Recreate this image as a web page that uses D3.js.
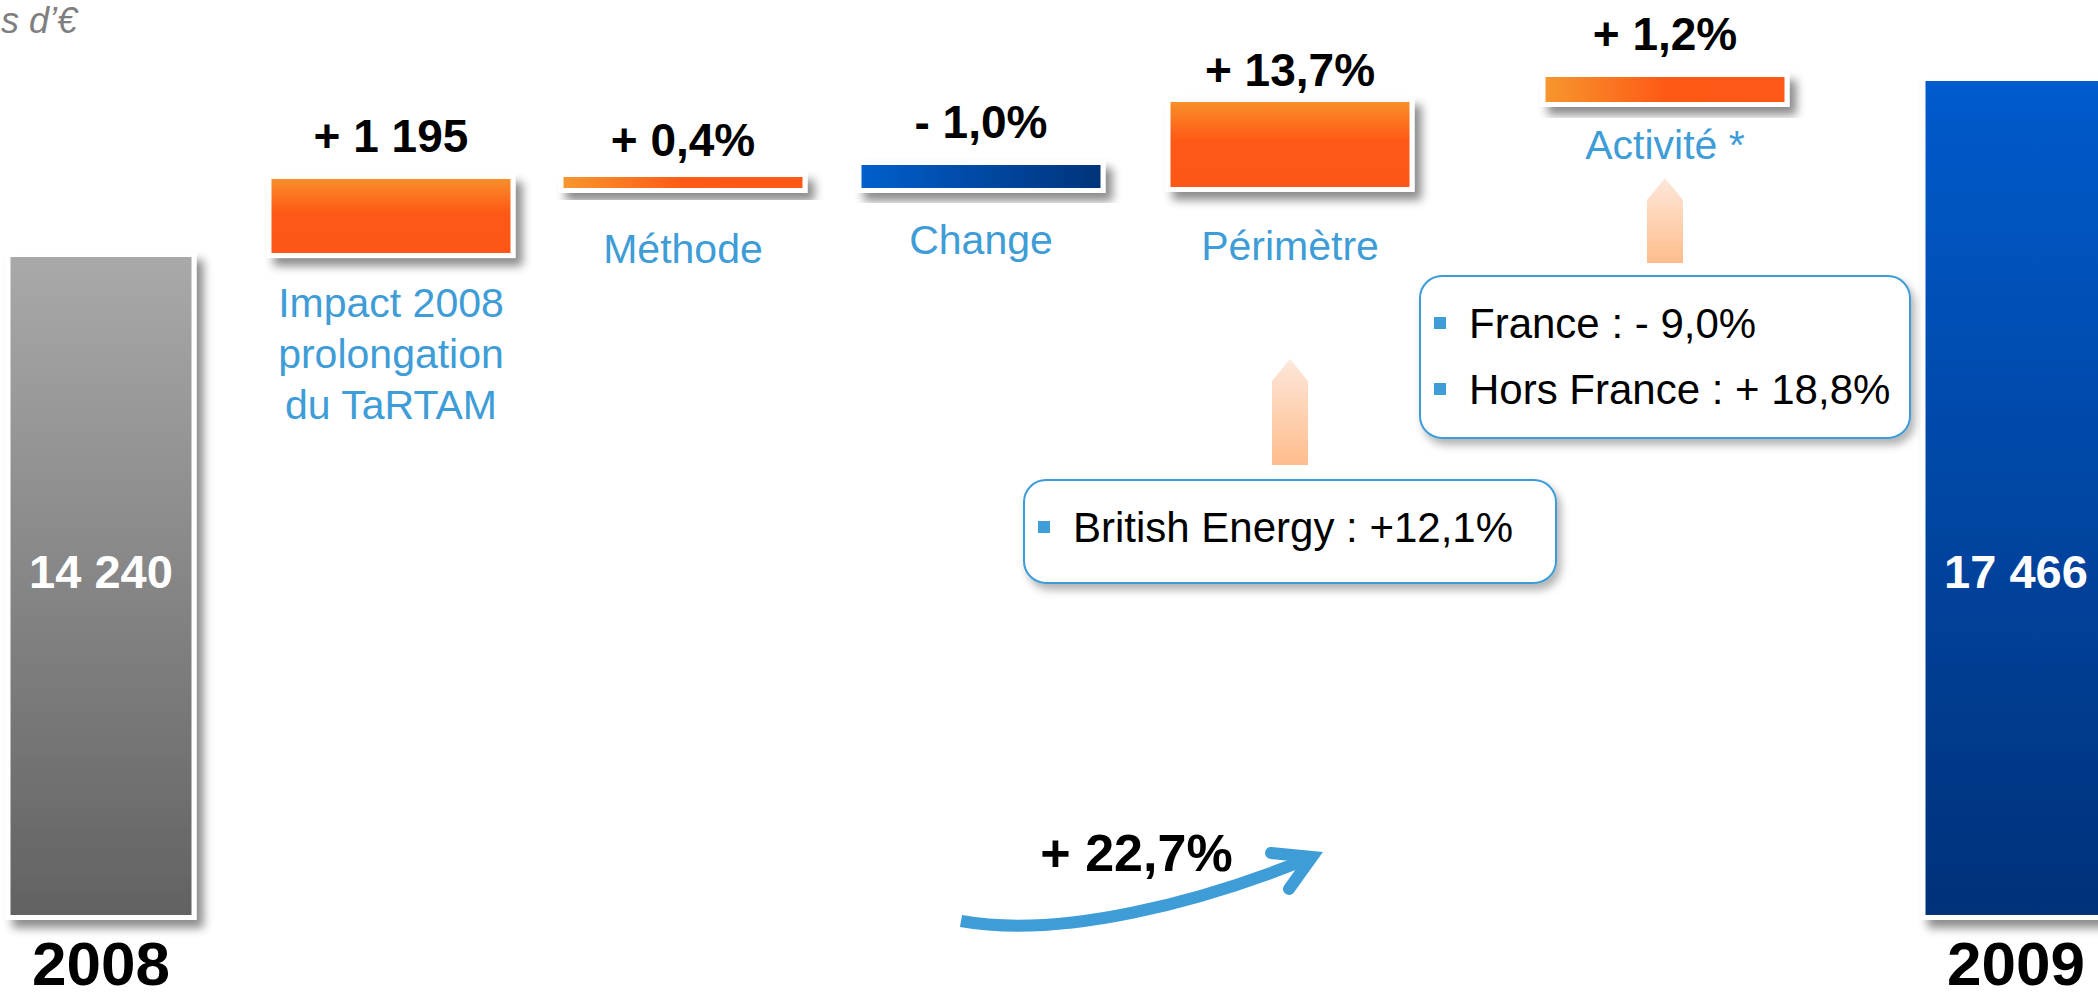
<!DOCTYPE html>
<html>
<head>
<meta charset="utf-8">
<script src="https://cdn.jsdelivr.net/npm/d3@7"></script>
<style>
  body { margin: 0; background: #fff; }
  svg { display: block; font-family: "Liberation Sans", Arial, sans-serif; }
</style>
</head>
<body>
<svg width="2098" height="999"></svg>
<script>
"use strict";

// bridge categories, left to right ("|" = line break in the label)
const categories = ["2008", "Impact 2008|prolongation|du TaRTAM", "Méthode", "Change", "Périmètre", "Activité *", "2009"];
const valueLabels = ["14 240", "+ 1 195", "+ 0,4%", "- 1,0%", "+ 13,7%", "+ 1,2%", "17 466"];
// bar extents in M€ as drawn on the slide (the axis is cut below ~2 180)
const barLow  = [2180, 14313, 15505, 15505, 15523, 17081, 2180];
const barHigh = [14240, 15670, 15706, 15926, 17081, 17539, 17466];
const totalGrowth = "+ 22,7%";
const unitLabel = "s d’€";   // only the end of the unit caption is visible on the slide
const perimetreDetail = ["British Energy : +12,1%"];
const activiteDetail = ["France : - 9,0%", "Hors France : + 18,8%"];

const blue = "#3e9cd7";
const last = categories.length - 1;

let svg = d3.select("svg");
let x = d3.scaleOrdinal(categories, [101, 391, 683, 981, 1290, 1665, 2016]);
let y = d3.scaleLinear([2180, 17539], [915, 77]);
let isTotal = i => i === 0 || i === last;
let barWidth = i => isTotal(i) ? 181 : 239;

// the slide's text boxes are not all at the same distance from their bar
let valueGap = i => ({2: 21, 4: 16})[i] || 27;
let nameGap = i => ({1: 64, 2: 75, 4: 73, 5: 57})[i] || 66;

// gradients + shadows
let defs = svg.append("defs");
function grad(id, horizontal, stops) {
  let g = defs.append("linearGradient").attr("id", id)
    .attr("x1", 0).attr("y1", 0)
    .attr("x2", horizontal ? 1 : 0).attr("y2", horizontal ? 0 : 1);
  stops.forEach(([o, c]) => g.append("stop").attr("offset", o).attr("stop-color", c));
}
grad("gGray", false, [[0, "#a9a9a9"], [1, "#626262"]]);
grad("gBlueV", false, [[0, "#005bcc"], [1, "#00317a"]]);
grad("gOrangeV", false, [[0, "#f98f2b"], [0.45, "#fe5916"], [1, "#fe5716"]]);
grad("gOrangeH", true, [[0, "#f7962e"], [0.5, "#fe5a16"], [1, "#fe5816"]]);
grad("gBlueH", true, [[0, "#005fcc"], [1, "#00337a"]]);
grad("gPeach", false, [[0, "#fde7da"], [1, "#ffbd8c"]]);

defs.append("filter").attr("id", "shadow")
    .attr("x", "-10%").attr("y", "-10%").attr("width", "130%").attr("height", "140%")
  .append("feDropShadow")
    .attr("dx", 7).attr("dy", 8).attr("stdDeviation", 5)
    .attr("flood-color", "#000").attr("flood-opacity", 0.45);
defs.append("filter").attr("id", "boxShadow")
    .attr("x", "-10%").attr("y", "-10%").attr("width", "125%").attr("height", "140%")
  .append("feDropShadow")
    .attr("dx", 4).attr("dy", 6).attr("stdDeviation", 4)
    .attr("flood-color", "#000").attr("flood-opacity", 0.3);

function fillFor(i) {
  if (i === 0) return "url(#gGray)";
  if (i === last) return "url(#gBlueV)";
  if (valueLabels[i].startsWith("-")) return "url(#gBlueH)";
  let h = y(barLow[i]) - y(barHigh[i]);
  return h > 40 ? "url(#gOrangeV)" : "url(#gOrangeH)";
}

// unit caption (top-left corner)
svg.append("text")
    .attr("x", 1).attr("y", 33)
    .style("font", "italic 36px 'Liberation Sans', Arial, sans-serif")
    .attr("fill", "#7f7f7f")
    .text(unitLabel);

// bars: white frame + gradient, with drop shadow
let bars = svg.append("g").selectAll("g")
  .data(categories)
  .join("g")
    .attr("filter", "url(#shadow)");

bars.append("rect")
    .attr("x", (d, i) => x(d) - barWidth(i) / 2 - 5)
    .attr("y", (d, i) => y(barHigh[i]) - 5)
    .attr("width", (d, i) => barWidth(i) + 10)
    .attr("height", (d, i) => y(barLow[i]) - y(barHigh[i]) + 10)
    .attr("fill", "#fff");

bars.append("rect")
    .attr("x", (d, i) => x(d) - barWidth(i) / 2)
    .attr("y", (d, i) => y(barHigh[i]))
    .attr("width", (d, i) => barWidth(i))
    .attr("height", (d, i) => y(barLow[i]) - y(barHigh[i]))
    .attr("fill", (d, i) => fillFor(i));

// value labels
let totalLabelY = (y(barLow[0]) + y(barHigh[0])) / 2 + 2;
svg.append("g").selectAll("text")
  .data(categories)
  .join("text")
    .attr("x", d => x(d))
    .attr("y", (d, i) => isTotal(i) ? totalLabelY : y(barHigh[i]) - valueGap(i))
    .attr("text-anchor", "middle")
    .attr("font-weight", "bold")
    .attr("font-size", (d, i) => isTotal(i) ? 47 : 46)
    .attr("fill", (d, i) => isTotal(i) ? "#fff" : "#000")
    .text((d, i) => valueLabels[i]);

// category labels: years at the bottom, steps in blue below their bar
svg.append("g").selectAll("text")
  .data(categories)
  .join("text")
    .attr("text-anchor", "middle")
    .attr("font-weight", (d, i) => isTotal(i) ? "bold" : "normal")
    .attr("font-size", (d, i) => isTotal(i) ? 62 : 41)
    .attr("fill", (d, i) => isTotal(i) ? "#000" : blue)
    .attr("transform", (d, i) => `translate(${x(d)},${isTotal(i) ? y.range()[0] + 70 : y(barLow[i]) + nameGap(i)})`)
  .selectAll("tspan")
  .data(d => d.split("|"))
  .join("tspan")
    .attr("x", 0)
    .attr("y", (d, j) => j * 51)
    .text(d => d);

// detail call-outs: peach up-arrow + rounded box
const notes = [
  {cat: "Périmètre", lines: perimetreDetail, arrowTop: 359, arrowBottom: 465, boxTop: 480, boxWidth: 532, boxHeight: 103},
  {cat: "Activité *", lines: activiteDetail, arrowTop: 178, arrowBottom: 263, boxTop: 276, boxWidth: 490, boxHeight: 162}
];

let note = svg.append("g").selectAll("g")
  .data(notes)
  .join("g");

note.append("path")
    .attr("d", n => {
      let cx = x(n.cat), hw = 18;
      return `M${cx},${n.arrowTop}L${cx + hw},${n.arrowTop + 22}L${cx + hw},${n.arrowBottom}` +
             `L${cx - hw},${n.arrowBottom}L${cx - hw},${n.arrowTop + 22}Z`;
    })
    .attr("fill", "url(#gPeach)");

note.append("rect")
    .attr("x", n => x(n.cat) - n.boxWidth / 2)
    .attr("y", n => n.boxTop)
    .attr("width", n => n.boxWidth)
    .attr("height", n => n.boxHeight)
    .attr("rx", 22)
    .attr("fill", "#fff")
    .attr("stroke", blue)
    .attr("stroke-width", 2)
    .attr("filter", "url(#boxShadow)");

note.each(function(n) {
  let g = d3.select(this);
  let left = x(n.cat) - n.boxWidth / 2;
  n.lines.forEach((line, j) => {
    let base = n.boxTop + 62 + j * 66;
    g.append("rect")
        .attr("x", left + 14).attr("y", base - 21)
        .attr("width", 12).attr("height", 12)
        .attr("fill", blue);
    g.append("text")
        .attr("x", left + 49).attr("y", base)
        .attr("font-size", 42)
        .attr("fill", "#000")
        .text(line);
  });
});

// overall growth arrow
let y0 = y.range()[0];
let sx = x("Change") - 20, sy = y0 + 6;
let vx = x("Périmètre") + 22, vy = y0 - 58;
let growth = svg.append("g")
    .attr("fill", "none")
    .attr("stroke", blue)
    .attr("stroke-width", 12);

growth.append("path")
    .attr("d", `M${sx},${sy}C${sx + 100},${sy + 18} ${vx - 110},${vy + 45} ${vx},${vy}`);
growth.append("path")
    .attr("stroke-linecap", "round")
    .attr("stroke-linejoin", "miter")
    .attr("d", `M${vx - 41},${vy - 4}L${vx},${vy}L${vx - 23},${vy + 32}`);

svg.append("text")
    .attr("x", (sx + vx) / 2)
    .attr("y", vy + 14)
    .attr("text-anchor", "middle")
    .attr("font-weight", "bold")
    .attr("font-size", 52)
    .text(totalGrowth);
</script>
</body>
</html>
